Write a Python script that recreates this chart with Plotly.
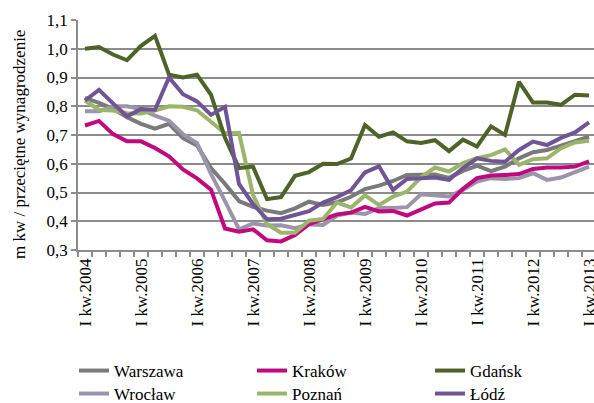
import plotly.graph_objects as go

quarters = list(range(37))
tick_positions = [0, 4, 8, 12, 16, 20, 24, 28, 32, 36]
tick_labels = ["I kw.2004", "I kw.2005", "I kw.2006", "I kw.2007", "I kw.2008",
               "I kw.2009", "I kw.2010", "I kw.2011", "I kw.2012", "I kw.2013"]

warszawa = [0.829, 0.812, 0.791, 0.762, 0.739, 0.722, 0.739, 0.689, 0.664, 0.585,
            0.53, 0.47, 0.45, 0.437, 0.428, 0.445, 0.468, 0.457, 0.466, 0.485,
            0.512, 0.524, 0.54, 0.561, 0.562, 0.563, 0.551, 0.575, 0.593, 0.574,
            0.59, 0.619, 0.64, 0.648, 0.663, 0.677, 0.694]
krakow = [0.733, 0.749, 0.703, 0.678, 0.678, 0.655, 0.626, 0.58, 0.549, 0.51,
          0.375, 0.364, 0.372, 0.334, 0.33, 0.352, 0.39, 0.408, 0.424, 0.43,
          0.45, 0.434, 0.436, 0.42, 0.442, 0.462, 0.465, 0.513, 0.55, 0.559,
          0.561, 0.564, 0.582, 0.587, 0.587, 0.59, 0.608]
gdansk = [1.00, 1.006, 0.98, 0.96, 1.01, 1.045, 0.91, 0.90, 0.91, 0.84,
          0.69, 0.585, 0.59, 0.477, 0.484, 0.558, 0.571, 0.60, 0.599, 0.618,
          0.735, 0.694, 0.709, 0.678, 0.672, 0.682, 0.644, 0.684, 0.66, 0.73,
          0.70, 0.885, 0.813, 0.813, 0.805, 0.84, 0.837]
wroclaw = [0.783, 0.783, 0.80, 0.80, 0.79, 0.767, 0.75, 0.703, 0.672, 0.565,
           0.47, 0.372, 0.392, 0.385, 0.386, 0.376, 0.389, 0.387, 0.42, 0.43,
           0.425, 0.446, 0.446, 0.449, 0.494, 0.491, 0.486, 0.509, 0.538, 0.55,
           0.547, 0.55, 0.567, 0.544, 0.552, 0.571, 0.59]
poznan = [0.82, 0.787, 0.785, 0.776, 0.775, 0.785, 0.80, 0.798, 0.786, 0.748,
          0.706, 0.708, 0.492, 0.39, 0.36, 0.36, 0.402, 0.408, 0.465, 0.448,
          0.49, 0.456, 0.486, 0.503, 0.553, 0.587, 0.573, 0.602, 0.619, 0.63,
          0.65, 0.596, 0.616, 0.619, 0.654, 0.674, 0.68]
lodz = [0.82, 0.857, 0.81, 0.765, 0.79, 0.788, 0.90, 0.842, 0.817, 0.77,
        0.798, 0.53, 0.46, 0.407, 0.409, 0.422, 0.435, 0.465, 0.484, 0.508,
        0.57, 0.591, 0.509, 0.547, 0.55, 0.552, 0.544, 0.585, 0.619, 0.61,
        0.607, 0.648, 0.677, 0.665, 0.69, 0.709, 0.744]

series = [
    ("Warszawa", warszawa, "#7a7a7a", "legend"),
    ("Kraków", krakow, "#c0087f", "legend"),
    ("Gdańsk", gdansk, "#4f6228", "legend"),
    ("Wrocław", wroclaw, "#9c95aa", "legend2"),
    ("Poznań", poznan, "#9bb56a", "legend2"),
    ("Łódź", lodz, "#6f5596", "legend2"),
]
draw_order = [0, 3, 1, 4, 2, 5]

FONT = "Liberation Serif"
fig = go.Figure()
for k in draw_order:
    name, vals, col, leg = series[k]
    fig.add_trace(go.Scatter(x=quarters, y=vals, name=name, mode="lines",
                             line=dict(color=col, width=4), legend=leg,
                             legendrank=k + 1))

W, H = 594, 403
L, R, T, B = 78, 0, 20, 153
pw, ph = W - L - R, H - T - B

def px_x(p):
    return (p - L) / pw

def px_y(p):
    return (H - B - p) / ph

legend_common = dict(orientation="h", font=dict(family=FONT, size=17, color="#000"),
                     entrywidth=133, entrywidthmode="pixels", bgcolor="rgba(0,0,0,0)",
                     xanchor="left", yanchor="middle", traceorder="normal",
                     itemclick=False)

fig.update_layout(
    width=W, height=H,
    margin=dict(l=L, r=R, t=T, b=B, autoexpand=False),
    paper_bgcolor="white", plot_bgcolor="white",
    separators=", ",
    font=dict(family=FONT, size=17, color="#000"),
    showlegend=True,
    legend=dict(x=px_x(74), y=px_y(371), **legend_common),
    legend2=dict(x=px_x(74), y=px_y(394), **legend_common),
    xaxis=dict(
        range=[-0.5, -0.5 + pw / 14.0],
        tickmode="array", tickvals=tick_positions, ticktext=tick_labels,
        tickangle=-90, ticks="", showgrid=False, zeroline=False,
        showline=True, linecolor="#8c8c8c", linewidth=1.5,
        tickfont=dict(family=FONT, size=17, color="#000"),
        ticklabeloverflow="allow",
        minor=dict(tickmode="linear", tick0=-0.5, dtick=1, ticks="outside",
                   ticklen=5, tickcolor="#8c8c8c", tickwidth=1.5, showgrid=False),
        automargin=False,
    ),
    yaxis=dict(
        range=[0.3, 1.1], tickmode="linear", tick0=0.3, dtick=0.1,
        tickformat=".1f", showgrid=True, gridcolor="#8c8c8c", gridwidth=1.5,
        zeroline=False, showline=True, linecolor="#8c8c8c", linewidth=1.5,
        ticks="outside", ticklen=5, tickcolor="#8c8c8c", tickwidth=1.5,
        tickfont=dict(family=FONT, size=17, color="#000"),
        automargin=False,
    ),
    annotations=[dict(
        text="m kw / przeciętne wynagrodzenie", textangle=-90,
        xref="paper", yref="paper", x=px_x(19), y=px_y(145),
        xanchor="center", yanchor="middle", showarrow=False,
        font=dict(family=FONT, size=17, color="#000"),
    )],
)

fig.write_html("out.html", config={"displayModeBar": False},
               post_script="document.body.style.margin='0';document.body.style.overflow='hidden';")
